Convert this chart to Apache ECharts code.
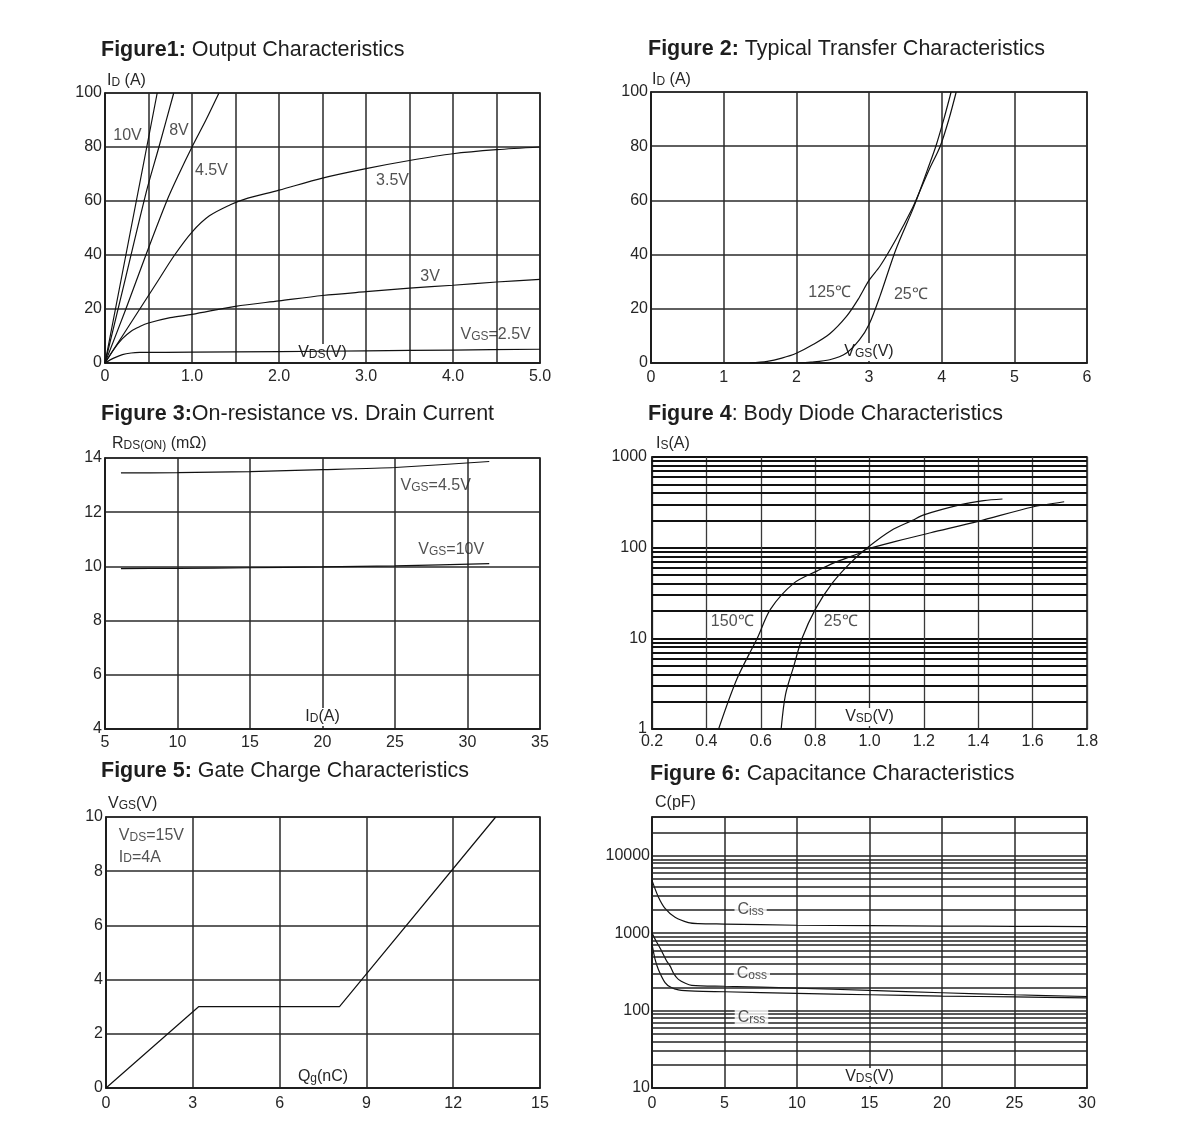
<!DOCTYPE html>
<html><head><meta charset="utf-8">
<script src="https://cdn.jsdelivr.net/npm/echarts@6/dist/echarts.min.js"></script>
<style>html,body{margin:0;padding:0;background:#fff}#c{width:1200px;height:1145px}</style>
</head><body><div id="c"></div>
<script>
// ---------- Figure 1: Output characteristics (VDS, ID) ----------
const fig1Vgs10 = [[0,0],[0.3,50],[0.6,100]];
const fig1Vgs8 = [[0,0],[0.24,32],[0.48,64],[0.62,80],[0.79,100]];
const fig1Vgs45 = [[0,0],[0.24,20],[0.47,40],[0.71,60],[0.85,70],[1.0,80],[1.16,90],[1.31,100]];
const fig1Vgs35 = [[0,0],[0.2,10],[0.4,20],[0.6,30],[0.8,40],[1.0,48.5],[1.2,54.5],[1.44,58.6],[1.6,60.6],[2.0,64],[2.5,68.5],[3.0,72],[3.5,75],[4.0,77.5],[4.5,79],[5.0,80]];
const fig1Vgs3 = [[0,0],[0.1,5],[0.2,9],[0.3,11.8],[0.4,13.5],[0.5,14.8],[0.75,16.8],[1.0,18],[1.5,21],[2.0,23],[2.5,25],[3.0,26.4],[3.5,27.7],[4.0,28.8],[4.5,30],[5.0,31]];
const fig1Vgs25 = [[0,0],[0.1,1.8],[0.2,3.1],[0.3,3.7],[0.4,3.9],[1,4.0],[2,4.2],[3,4.5],[4,4.8],[5,5.1]];
const fig1XTicks = [0,1,2,3,4,5];
const fig1XLabels = ['0','1.0','2.0','3.0','4.0','5.0'];
const fig1YTicks = [0,20,40,60,80,100];
const fig1YLabels = ['0','20','40','60','80','100'];

// ---------- Figure 2: Transfer characteristics (VGS, ID) ----------
const fig2T125 = [[1.36,0],[1.6,0.6],[1.8,1.8],[2.0,3.6],[2.23,6.8],[2.46,10.8],[2.69,17.2],[2.85,23.5],[3.0,30.5],[3.15,35.7],[3.37,45.6],[3.6,57.3],[3.69,62.8],[3.83,71.5],[3.98,80],[4.1,90],[4.2,100]];
const fig2T25 = [[2.0,0],[2.2,0.3],[2.46,1.2],[2.69,3.7],[2.87,8.6],[3.0,14.2],[3.15,24.6],[3.37,41.9],[3.6,56.5],[3.69,62.8],[3.8,71],[3.92,80],[4.03,90],[4.13,100]];
const fig2XTicks = [0,1,2,3,4,5,6];
const fig2XLabels = ['0','1','2','3','4','5','6'];
const fig2YTicks = [0,20,40,60,80,100];
const fig2YLabels = ['0','20','40','60','80','100'];

// ---------- Figure 3: RDS(on) vs ID ----------
const fig3Vgs45 = [[6.1,13.45],[10,13.46],[15,13.5],[20,13.57],[25,13.65],[31.5,13.87]];
const fig3Vgs10 = [[6.1,9.92],[10,9.93],[15,9.95],[20,9.98],[25,10.02],[31.5,10.1]];
const fig3XTicks = [5,10,15,20,25,30,35];
const fig3XLabels = ['5','10','15','20','25','30','35'];
const fig3YTicks = [4,6,8,10,12,14];
const fig3YLabels = ['4','6','8','10','12','14'];

// ---------- Figure 4: Body diode (VSD, IS log) ----------
const fig4T25 = [[0.675,1],[0.691,2.4],[0.722,5],[0.752,10],[0.801,21],[0.863,40.6],[0.93,68],[0.992,100],[1.08,155],[1.158,200],[1.2,230],[1.336,298],[1.42,330],[1.489,344]];
const fig4T150 = [[0.445,1],[0.513,3.6],[0.587,10],[0.636,21],[0.722,40.6],[0.808,55.5],[0.869,68],[0.967,88],[0.99,96],[1.1,118],[1.225,146],[1.4,195],[1.6,281],[1.716,321]];
const fig4XTicks = [0.2,0.4,0.6,0.8,1.0,1.2,1.4,1.6,1.8];
const fig4XLabels = ['0.2','0.4','0.6','0.8','1.0','1.2','1.4','1.6','1.8'];
const fig4YTicks = [1,10,100,1000];
const fig4YLabels = ['1','10','100','1000'];
const fig4MinorGrid = [2,3,4,5,6,7,8,9,20,30,40,50,60,70,80,90,200,300,400,500,600,700,800,900];

// ---------- Figure 5: Gate charge ----------
const fig5Vgs = [[0,0],[3.2,3],[8.07,3],[13.47,10]];
const fig5XTicks = [0,3,6,9,12,15];
const fig5XLabels = ['0','3','6','9','12','15'];
const fig5YTicks = [0,2,4,6,8,10];
const fig5YLabels = ['0','2','4','6','8','10'];

// ---------- Figure 6: Capacitance ----------
const fig6Ciss = [[0,4800],[0.44,2930],[0.9,2085],[1.59,1600],[2.51,1368],[3.2,1327],[5,1310],[10,1265],[15,1250],[20,1235],[25,1225],[30,1215]];
const fig6Coss = [[0,1000],[0.3,780],[0.62,610],[1.0,440],[1.25,375],[1.5,300],[1.82,253],[2.3,225],[2.74,212],[5,206],[10,195],[15,182],[20,170],[25,160],[30,152]];
const fig6Crss = [[0,720],[0.2,470],[0.44,340],[0.9,230],[1.3,200],[1.82,185],[2.97,178],[5,175],[10,167],[15,160],[20,154],[25,150],[30,146]];
const fig6XTicks = [0,5,10,15,20,25,30];
const fig6XLabels = ['0','5','10','15','20','25','30'];
const fig6YTicks = [10,100,1000,10000];
const fig6YLabels = ['10','100','1000','10000'];
const fig6MinorGrid = [20,30,40,50,60,70,80,90,200,300,400,500,600,700,800,900,2000,3000,4000,5000,6000,7000,8000,9000,20000];

// ---------- styling ----------
const FONT = '"Liberation Sans", Arial, Helvetica, sans-serif';
const TXT = '#262626';
const GRIDC = '#2a2a2a';
const CURVE = '#111';
const FS = 16;
const rich = {
  n: {fontFamily: FONT, fontSize: FS, color: TXT, verticalAlign: 'bottom'},
  s: {fontFamily: FONT, fontSize: 12, color: TXT, verticalAlign: 'bottom'}
};

function fmtFrom(ticks, labels) {
  return function (v) {
    for (let i = 0; i < ticks.length; i++) {
      if (Math.abs(ticks[i] - v) <= 1e-6 * Math.max(1, Math.abs(ticks[i]))) return labels[i];
    }
    return '';
  };
}

const grids = [
  {left:105, top:93, width:435, height:270},
  {left:651, top:92, width:436, height:271},
  {left:105, top:458, width:435, height:271},
  {left:652, top:457, width:435, height:272},
  {left:106, top:817, width:434, height:271},
  {left:652, top:817, width:435, height:271}
].map(g => Object.assign(g, {show:true, borderColor:'#1a1a1a', borderWidth:1.6, backgroundColor:'transparent', outerBoundsMode:'none', containLabel:false}));

function xAx(gi, o) {
  return {
    gridIndex: gi, type: 'value', min: o.min, max: o.max, interval: o.interval,
    name: o.name, nameLocation: 'middle', nameGap: o.nameGap,
    nameTextStyle: {rich: rich, fontFamily: FONT, fontSize: FS, color: TXT, backgroundColor: '#fff', padding: [1, 3]},
    axisLine: {show: true, lineStyle: {color: '#1a1a1a', width: 1.6}},
    axisTick: {show: false},
    axisLabel: {formatter: fmtFrom(o.ticks, o.labels), fontFamily: FONT, fontSize: FS, color: TXT, margin: o.margin, showMinLabel: true, showMaxLabel: true},
    splitLine: {show: true, lineStyle: {color: o.gridColor || GRIDC, width: o.gridWidth || 1.5}}
  };
}
function yAx(gi, o) {
  return {
    gridIndex: gi, type: o.log ? 'log' : 'value', logBase: 10, min: o.min, max: o.max, interval: o.log ? undefined : o.interval,
    name: o.name, nameLocation: 'end', nameGap: o.nameGap,
    nameTextStyle: {rich: rich, fontFamily: FONT, fontSize: FS, color: TXT, align: 'left', verticalAlign: 'bottom', padding: [0, 0, 0, o.namePad]},
    axisLine: {show: true, lineStyle: {color: '#1a1a1a', width: 1.6}},
    axisTick: {show: false},
    axisLabel: {formatter: fmtFrom(o.ticks, o.labels), fontFamily: FONT, fontSize: FS, color: TXT, margin: o.margin, showMinLabel: true, showMaxLabel: true},
    splitLine: {show: true, lineStyle: {color: o.gridColor || GRIDC, width: o.gridWidth || 1.5}}
  };
}

const xAxes = [
  xAx(0, {min:0, max:5, interval:0.5, ticks:fig1XTicks, labels:fig1XLabels, name:'{n|V}{s|DS}{n|(V)}', nameGap:-19, margin:6}),
  xAx(1, {min:0, max:6, interval:1, ticks:fig2XTicks, labels:fig2XLabels, name:'{n|V}{s|GS}{n|(V)}', nameGap:-20, margin:7}),
  xAx(2, {min:5, max:35, interval:5, ticks:fig3XTicks, labels:fig3XLabels, name:'{n|I}{s|D}{n|(A)}', nameGap:-21, margin:6}),
  xAx(3, {min:0.2, max:1.8, interval:0.2, ticks:fig4XTicks, labels:fig4XLabels, name:'{n|V}{s|SD}{n|(V)}', nameGap:-21, margin:5, gridColor:'#3a3a3a', gridWidth:1.3}),
  xAx(4, {min:0, max:15, interval:3, ticks:fig5XTicks, labels:fig5XLabels, name:'{n|Q}{s|g}{n|(nC)}', nameGap:-20, margin:8}),
  xAx(5, {min:0, max:30, interval:5, ticks:fig6XTicks, labels:fig6XLabels, name:'{n|V}{s|DS}{n|(V)}', nameGap:-20, margin:8})
];
const yAxes = [
  yAx(0, {min:0, max:100, interval:20, ticks:fig1YTicks, labels:fig1YLabels, name:'{n|I}{s|D}{n| (A)}', nameGap:4, namePad:2, margin:3}),
  yAx(1, {min:0, max:100, interval:20, ticks:fig2YTicks, labels:fig2YLabels, name:'{n|I}{s|D}{n| (A)}', nameGap:4, namePad:1, margin:3}),
  yAx(2, {min:4, max:14, interval:2, ticks:fig3YTicks, labels:fig3YLabels, name:'{n|R}{s|DS(ON)}{n| (mΩ)}', nameGap:6, namePad:7, margin:3}),
  yAx(3, {log:true, min:1, max:1000, ticks:fig4YTicks, labels:fig4YLabels, name:'{n|I}{s|S}{n|(A)}', nameGap:5, namePad:4, margin:5, gridColor:'#111', gridWidth:2}),
  yAx(4, {min:0, max:10, interval:2, ticks:fig5YTicks, labels:fig5YLabels, name:'{n|V}{s|GS}{n|(V)}', nameGap:5, namePad:2, margin:3}),
  yAx(5, {log:true, min:10, max:31623, ticks:fig6YTicks, labels:fig6YLabels, name:'{n|C(pF)}', nameGap:6, namePad:3, margin:2, gridColor:'#222', gridWidth:1.5})
];

function curve(gi, data, extra) {
  return Object.assign({
    type: 'line', xAxisIndex: gi, yAxisIndex: gi, data: data,
    symbol: 'none', showSymbol: false, smooth: 0.3,
    lineStyle: {color: CURVE, width: 1.2}, silent: true, z: 3, animation: false
  }, extra || {});
}
function gridMarks(values, color, width) {
  return {
    silent: true, symbol: ['none', 'none'], animation: false,
    label: {show: false},
    lineStyle: {color: color, width: width, type: 'solid'},
    data: values.map(v => ({yAxis: v}))
  };
}
function labels(gi, items, extra) {
  return {
    type: 'scatter', xAxisIndex: gi, yAxisIndex: gi, z: 10, silent: true, animation: false,
    symbolSize: 1, itemStyle: {color: 'rgba(0,0,0,0)'},
    data: items.map(it => ({value: [it[0], it[1]], name: it[2]})),
    label: Object.assign({show: true, position: 'inside', formatter: p => p.name,
      fontFamily: FONT, fontSize: FS, color: TXT, rich: rich}, extra || {})
  };
}

const series = [
  curve(0, fig1Vgs10, {smooth: false}), curve(0, fig1Vgs8), curve(0, fig1Vgs45), curve(0, fig1Vgs35), curve(0, fig1Vgs3), curve(0, fig1Vgs25),
  labels(0, [[0.259,84.4,'{n|10V}'],[0.85,86,'{n|8V}'],[1.224,71.4,'{n|4.5V}'],[3.305,67.4,'{n|3.5V}'],[3.736,32.1,'{n|3V}'],[4.49,10.5,'{n|V}{s|GS}{n|=2.5V}']]),

  curve(1, fig2T125), curve(1, fig2T25),
  labels(1, [[2.458,25.9,'{n|125℃}'],[3.576,25.2,'{n|25℃}']]),

  curve(2, fig3Vgs45, {smooth: 0.2}), curve(2, fig3Vgs10, {smooth: 0.2}),
  labels(2, [[27.81,12.99,'{n|V}{s|GS}{n|=4.5V}'],[28.88,10.62,'{n|V}{s|GS}{n|=10V}']]),

  curve(3, fig4T25, {markLine: gridMarks(fig4MinorGrid, '#111', 2)}), curve(3, fig4T150),
  labels(3, [[0.495,15.2,'{n|150℃}'],[0.894,15.2,'{n|25℃}']]),

  curve(4, fig5Vgs, {smooth: false}),
  labels(4, [[0.425,9.31,'{n|V}{s|DS}{n|=15V}'],[0.425,8.52,'{n|I}{s|D}{n|=4A}']], {position: 'right', distance: 0}),

  curve(5, fig6Ciss, {markLine: gridMarks(fig6MinorGrid, '#222', 1.5)}), curve(5, fig6Coss), curve(5, fig6Crss),
  labels(5, [[6.8,2000,'{n|C}{s|iss}'],[6.89,300,'{n|C}{s|oss}'],[6.86,80,'{n|C}{s|rss}']], {backgroundColor: '#fff', padding: [0, 3]})
];

function ttl(text, left, top) {
  return {text: text, left: left, top: top, padding: 0,
    textStyle: {fontFamily: FONT, fontSize: 21.5, fontWeight: 'normal', color: '#1e1e1e',
      rich: {b: {fontFamily: FONT, fontSize: 21.5, fontWeight: 'bold', color: '#1e1e1e'}}}};
}

const option = {
  backgroundColor: '#fff',
  animation: false,
  title: [
    ttl('{b|Figure1:} Output Characteristics', 101, 39),
    ttl('{b|Figure 2:} Typical Transfer Characteristics', 648, 38),
    ttl('{b|Figure 3:}On-resistance vs. Drain Current', 101, 403),
    ttl('{b|Figure 4}: Body Diode Characteristics', 648, 403),
    ttl('{b|Figure 5:} Gate Charge Characteristics', 101, 760),
    ttl('{b|Figure 6:} Capacitance Characteristics', 650, 763)
  ],
  grid: grids,
  xAxis: xAxes,
  yAxis: yAxes,
  series: series
};

const chart = echarts.init(document.getElementById('c'), null, {renderer: 'canvas'});
chart.setOption(option);
</script></body></html>
